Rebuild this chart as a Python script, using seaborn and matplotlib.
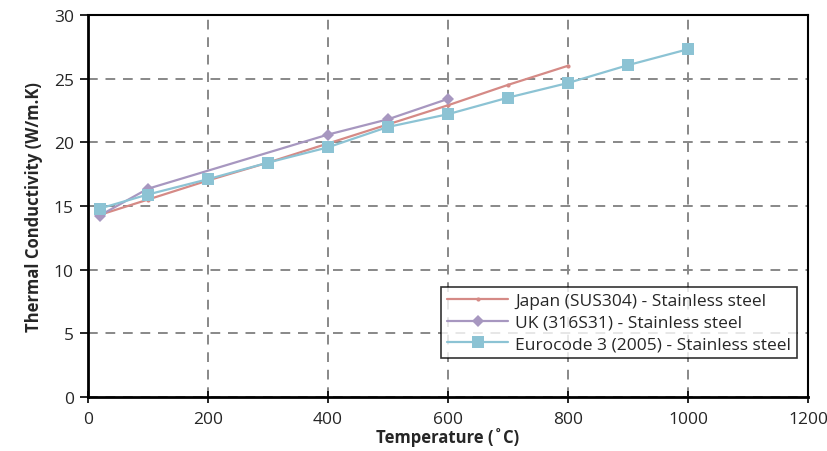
import matplotlib
matplotlib.use("Agg")
import matplotlib.pyplot as plt
import seaborn as sns
import pandas as pd

japan_t = [20, 100, 200, 300, 400, 500, 600, 700, 800]
japan_k = [14.3, 15.5, 17.0, 18.4, 19.9, 21.4, 22.9, 24.5, 26.0]
uk_t = [20, 100, 400, 500, 600]
uk_k = [14.25, 16.35, 20.6, 21.8, 23.4]
ec_t = [20, 100, 200, 300, 400, 500, 600, 700, 800, 900, 1000]
ec_k = [14.8, 15.9, 17.1, 18.4, 19.6, 21.2, 22.2, 23.5, 24.65, 26.05, 27.3]
labels = ["Japan (SUS304) - Stainless steel",
          "UK (316S31) - Stainless steel",
          "Eurocode 3 (2005) - Stainless steel"]
colors = ["#D58A86", "#A797C0", "#8CC3D4"]

sns.set_theme(style="white")
plt.rcParams['font.family'] = ['Open Sans', 'DejaVu Sans']

df = pd.concat([
    pd.DataFrame({"T": japan_t, "k": japan_k, "s": labels[0]}),
    pd.DataFrame({"T": uk_t, "k": uk_k, "s": labels[1]}),
    pd.DataFrame({"T": ec_t, "k": ec_k, "s": labels[2]}),
])

fig = plt.figure(figsize=(8.27, 4.52), dpi=100)
ax = fig.add_axes([0.106, 0.119, 0.871, 0.846])
markers = {labels[0]: "o", labels[1]: "D", labels[2]: "s"}
sizes = {labels[0]: 3, labels[1]: 6, labels[2]: 8}
for lab, col in zip(labels, colors):
    sub = df[df.s == lab]
    sns.lineplot(data=sub, x="T", y="k", ax=ax, color=col, marker=markers[lab],
                 markersize=sizes[lab], markeredgewidth=0, linewidth=1.6,
                 label=lab, zorder=3)

ax.set_xlim(0, 1200)
ax.set_ylim(0, 30)
ax.set_xticks(range(0, 1201, 200))
ax.set_yticks(range(0, 31, 5))
ax.grid(True, color="#888888", linestyle=(0, (5, 4)), linewidth=1.4)
for sp in ax.spines.values():
    sp.set_color("black")
    sp.set_linewidth(1.5)
    sp.set_visible(True)
ax.spines["left"].set_linewidth(2)
ax.spines["bottom"].set_linewidth(2)
ax.tick_params(axis="y", direction="out", length=6, width=1.2, labelsize=12.5, color="black", left=True, pad=4)
ax.tick_params(axis="x", direction="inout", length=8, width=1.2, labelsize=12.5, color="black", bottom=True, pad=6)
ax.set_xlabel("Temperature (˚C)", fontsize=12, fontweight="bold", labelpad=0)
ax.set_ylabel("Thermal Conductivity (W/m.K)", fontsize=12, fontweight="bold", labelpad=8)

leg = ax.legend(loc="lower right", bbox_to_anchor=(0.985, 0.102), borderaxespad=0,
                frameon=True, fancybox=False, edgecolor="black", fontsize=12.5,
                borderpad=0.35, labelspacing=0.3, handlelength=3.5, handletextpad=0.4)
leg.get_frame().set_linewidth(1.2)

fig.savefig("out.png", dpi=100)
